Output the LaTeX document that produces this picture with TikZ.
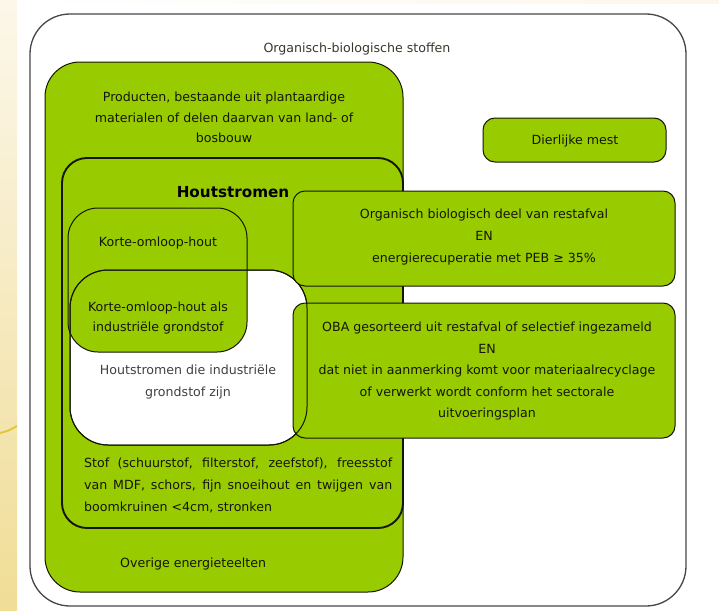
\documentclass[tikz,border=0pt]{standalone}
\usepackage{fontspec}
\setmainfont{DejaVu Sans}
\definecolor{grn}{RGB}{153,204,0}
\definecolor{ink}{RGB}{20,22,5}
\definecolor{creamA}{RGB}{252,247,234}
\definecolor{creamB}{RGB}{240,221,150}
\definecolor{swoosh}{RGB}{226,200,60}
\tikzset{
  lbl/.style={font=\fontsize{12.6}{#1}\selectfont, text=ink, inner sep=0pt, anchor=base, align=center},
  lbl/.default={20.5},
  greenbox/.style={fill=grn, draw=ink, line width=1pt},
}
\begin{document}
\begin{tikzpicture}[x=1pt,y=-1pt]
\useasboundingbox (0,0) rectangle (719,610);
\fill[white] (0,0) rectangle (719,610);
% slide background
\shade[top color=creamA, bottom color=creamB] (0,0) rectangle (17,610);
\shade[left color=white, right color=creamA] (17,0) rectangle (719,4);
\draw[swoosh, line width=2pt] (0,433) .. controls (8,431) .. (17,426);

% outer frame
\draw[draw=gray!55!black, line width=1.3pt, fill=white, rounded corners=40pt] (30,14) rectangle (686,606);

% big green box
\draw[greenbox, rounded corners=35pt] (45,62) rectangle (403,592);
% Houtstromen box
\draw[greenbox, line width=1.9pt, rounded corners=25pt] (62,158) rectangle (403,528);
% white box fill
\fill[white, rounded corners=38pt] (70,270) rectangle (307,445);
% korte-omloop-hout box
\draw[greenbox, rounded corners=30pt] (68,208) rectangle (247,352);
% white box outline
\draw[ink, line width=1pt, rounded corners=38pt] (70,270) rectangle (307,445);
% OBA box
\draw[greenbox, rounded corners=12pt] (293,303) rectangle (675,438);
% white box outline again (visible through OBA box)
\draw[ink, line width=1pt, rounded corners=38pt] (70,270) rectangle (307,445);
% Organisch biologisch deel box
\draw[greenbox, rounded corners=12pt] (293,191) rectangle (675,286);
% Dierlijke mest box
\draw[greenbox, rounded corners=12pt] (483,118) rectangle (666,162);

% texts (multi-line nodes: base anchor = last line baseline)
\node[lbl, text=ink!85] (title) at (357,52.5) {Organisch-biologische stoffen};
\node[lbl] (prod) at (224,142.5) {Producten, bestaande uit plantaardige\\materialen of delen daarvan van land- of\\bosbouw};
\node[lbl, font=\fontsize{15.2}{18}\selectfont\bfseries, text=black] (hout) at (233,197.5) {Houtstromen};
\node[lbl] (korte) at (158,246.5) {Korte-omloop-hout};
\node[lbl, font=\fontsize{12.6}{20}\selectfont] (kortind) at (158,331.5) {Korte-omloop-hout als\\industriële grondstof};
\node[lbl, font=\fontsize{12.6}{22}\selectfont, text=black!75] (indus) at (188,396.5) {Houtstromen die industriële\\grondstof zijn};
\node[lbl] (mest) at (575,144.5) {Dierlijke mest};
\node[lbl, font=\fontsize{12.6}{22}\selectfont] (rest) at (484,262.5) {Organisch biologisch deel van restafval\\EN\\energierecuperatie met PEB ≥ 35\%};
\node[lbl, font=\fontsize{12.6}{21.5}\selectfont] (oba) at (487,417.5) {OBA gesorteerd uit restafval of selectief ingezameld\\EN\\dat niet in aanmerking komt voor materiaalrecyclage\\of verwerkt wordt conform het sectorale\\uitvoeringsplan};
\node[lbl, anchor=base west] (stof1) at (84,467.5) {\makebox[308pt][s]{Stof (schuurstof, filterstof, zeefstof), freesstof}};
\node[lbl, anchor=base west] (stof2) at (84,489.5) {\makebox[308pt][s]{van MDF, schors, fijn snoeihout en twijgen van}};
\node[lbl, anchor=base west] (stof3) at (84,511.5) {boomkruinen <4cm, stronken};
\node[lbl, anchor=base west] (overig) at (120,567.5) {Overige energieteelten};
\end{tikzpicture}
\end{document}
